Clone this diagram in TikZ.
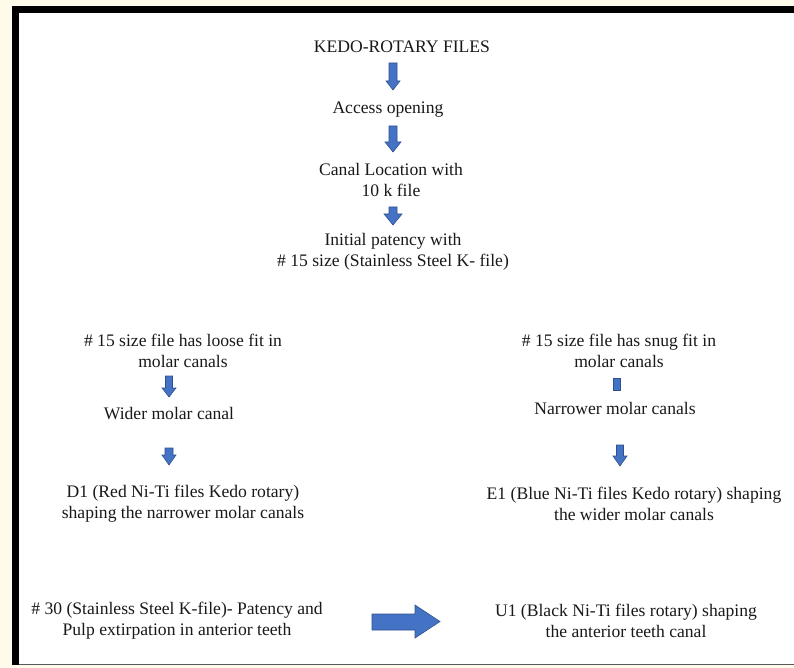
\documentclass[tikz,border=0pt]{standalone}
\usepackage{fontspec}
\setmainfont{Liberation Serif}
\definecolor{cream}{HTML}{FFFBEA}
\definecolor{arrowfill}{HTML}{4472C4}
\definecolor{arrowline}{HTML}{2F528F}
\newcommand{\blkdown}[6]{%
  \filldraw[blk] ({#1-#4},#2) -- ({#1+#4},#2) -- ({#1+#4},#6) -- ({#1+#5},#6) -- (#1,#3) -- ({#1-#5},#6) -- ({#1-#4},#6) -- cycle;}
\tikzset{
  txt/.style={align=center, inner sep=0pt, text=black!90, font=\fontsize{17.6}{21}\selectfont},
  blk/.style={fill=arrowfill, draw=arrowline, line width=0.6pt}
}
\begin{document}
\begin{tikzpicture}[x=1pt,y=-1pt]
\useasboundingbox (0,0) rectangle (794,668);
\fill[cream] (0,0) rectangle (794,668);
\fill[white] (19,13) rectangle (794,664);
\fill[black] (12,6) rectangle (794,13);
\fill[black] (12,6) rectangle (19,665);
\draw[gray!70!black, line width=1pt] (19,664.5) -- (794,664.5);

\node[txt] (title) at (402,47) {KEDO-ROTARY FILES};
\node[txt] (access) at (388,110) {Access opening};
\node[txt] (canal) at (391,180) {Canal Location with\\10 k file};
\node[txt] (patency) at (393,252) {Initial patency with\\\# 15 size (Stainless Steel K- file)};

\node[txt] (loose) at (183,351) {\# 15 size file has loose fit in\\molar canals};
\node[txt] (wider) at (169,414) {Wider molar canal};
\node[txt] (d1) at (183,504) {D1 (Red Ni-Ti files Kedo rotary)\\shaping the narrower molar canals};

\node[txt] (snug) at (619,351) {\# 15 size file has snug fit in\\molar canals};
\node[txt] (narrower) at (615,408) {Narrower molar canals};
\node[txt] (e1) at (634,504) {E1 (Blue Ni-Ti files Kedo rotary) shaping\\the wider molar canals};

\node[txt] (k30) at (177,621) {\# 30 (Stainless Steel K-file)- Patency and\\Pulp extirpation in anterior teeth};
\node[txt] (u1) at (626,621) {U1 (Black Ni-Ti files rotary) shaping\\the anterior teeth canal};

\blkdown{393}{63}{90}{4}{7}{81}
\blkdown{393}{126}{152}{4}{8}{142}
\blkdown{393}{207}{225}{4}{9}{214}
\blkdown{169}{376}{397}{3.5}{7}{388}
\blkdown{169}{448}{465}{4}{7}{455}
\filldraw[blk] (613,378) rectangle (620,390);
\blkdown{620}{445}{466}{3.5}{7}{456}
\filldraw[blk] (372,614) -- (415,614) -- (415,605) -- (440,621.5) -- (415,638) -- (415,630) -- (372,630) -- cycle;
\end{tikzpicture}
\end{document}
